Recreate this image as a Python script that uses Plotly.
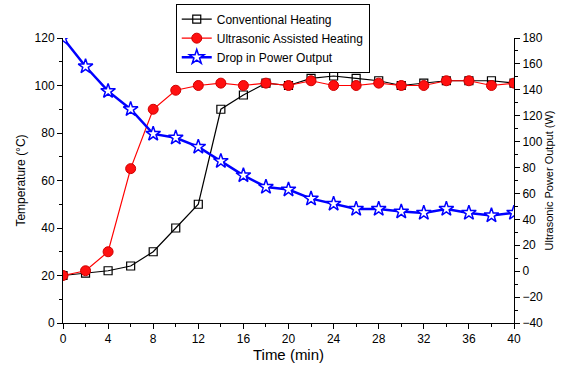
import plotly.graph_objects as go

time = [0, 2, 4, 6, 8, 10, 12, 14, 16, 18, 20, 22, 24, 26, 28, 30, 32, 34, 36, 38, 40]
conventional = [20, 21, 22, 24, 30, 40, 50, 90, 96, 101, 100, 103, 104, 103, 102, 100, 101, 102, 102, 102, 101]
ultrasonic = [20, 22, 30, 65, 90, 98, 100, 101, 100, 101, 100, 102, 100, 100, 101, 100, 100, 102, 102, 100, 101]
power = [180, 158, 139, 125, 106, 103, 96, 85, 74, 65, 63, 56, 52, 48, 48, 46, 45, 48, 45, 43, 45]

font = "Liberation Sans, Arial, sans-serif"

fig = go.Figure()
fig.add_trace(go.Scatter(
    x=time, y=conventional, name="Conventional Heating", mode="lines+markers",
    line=dict(color="black", width=1.2),
    marker=dict(symbol="square-open", size=8, color="black", line=dict(width=1.2)),
))
fig.add_trace(go.Scatter(
    x=time, y=ultrasonic, name="Ultrasonic Assisted Heating", mode="lines+markers",
    line=dict(color="#ff0000", width=1.2),
    marker=dict(symbol="circle", size=10, color="#ff1010", line=dict(color="#d00000", width=1)),
))
fig.add_trace(go.Scatter(
    x=time, y=power, name="Drop in Power Output", mode="lines+markers", yaxis="y2",
    line=dict(color="#0000ff", width=2.5),
    marker=dict(symbol="star", size=11, color="white", line=dict(color="#0000ff", width=1.5)),
))

base = dict(
    showline=True, linecolor="black", linewidth=1, ticks="outside", ticklen=5,
    tickcolor="black", showgrid=False, zeroline=False, automargin=False,
    tickfont=dict(family=font, size=12, color="black"),
)

fig.update_layout(
    width=565, height=367,
    margin=dict(l=63, r=51, t=38, b=44, autoexpand=False),
    paper_bgcolor="white", plot_bgcolor="white",
    font=dict(family=font, color="black"),
    xaxis=dict(range=[0, 40], tickmode="linear", tick0=0, dtick=4,
               minor=dict(ticks="outside", ticklen=3, tickcolor="black", dtick=2),
               title=dict(text="Time (min)", font=dict(family=font, size=15), standoff=4),
               **base),
    yaxis=dict(range=[0, 120], tickmode="linear", tick0=0, dtick=20,
               minor=dict(ticks="outside", ticklen=3, tickcolor="black", dtick=10),
               title=dict(text="Temperature (°C)", font=dict(family=font, size=12), standoff=6),
               **base),
    yaxis2=dict(range=[-40, 180], tickmode="linear", tick0=-40, dtick=20,
                overlaying="y", side="right",
                minor=dict(ticks="outside", ticklen=3, tickcolor="black", dtick=10),
                title=dict(text="Ultrasonic Power Output (W)", font=dict(family=font, size=11), standoff=2),
                **base),
    legend=dict(x=0.25, y=0.99, yref="container", xanchor="left", yanchor="top",
                bgcolor="white", bordercolor="black", borderwidth=1,
                font=dict(family=font, size=12, color="black"),
                tracegroupgap=0, itemwidth=30),
    showlegend=True,
)

fig.write_html("out.html", config={"displayModeBar": False},
               post_script="document.body.style.margin='0px';document.body.style.overflow='hidden';")
